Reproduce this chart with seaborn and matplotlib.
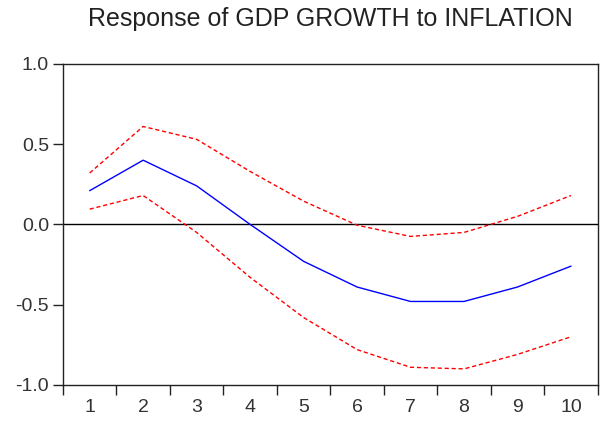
import pandas as pd
import seaborn as sns
import matplotlib.pyplot as plt

# Impulse response values
periods = [1, 2, 3, 4, 5, 6, 7, 8, 9, 10]
response = [0.21, 0.40, 0.24, 0.00, -0.23, -0.39, -0.48, -0.48, -0.39, -0.26]
upper_band = [0.32, 0.61, 0.53, 0.33, 0.145, -0.005, -0.075, -0.05, 0.05, 0.18]
lower_band = [0.095, 0.18, -0.05, -0.33, -0.58, -0.78, -0.89, -0.90, -0.81, -0.70]

df = pd.DataFrame({"period": periods * 3,
                   "value": response + upper_band + lower_band,
                   "series": ["response"] * 10 + ["upper"] * 10 + ["lower"] * 10})

sns.set_theme(style="white")
plt.rcParams["font.family"] = ["Liberation Sans", "DejaVu Sans"]

fig = plt.figure(figsize=(6.05, 4.23), dpi=100)
ax = fig.add_axes([0.104, 0.090, 0.884, 0.759])

sns.lineplot(data=df, x="period", y="value", hue="series", style="series",
             palette={"response": "#0000ff", "upper": "#ff0000", "lower": "#ff0000"},
             dashes={"response": "", "upper": (3, 2), "lower": (3, 2)},
             linewidth=1, legend=False, ax=ax)

ax.axhline(0, color="black", linewidth=1, zorder=1)

# x axis: ticks at the boundaries, labels centred between them
ax.set_xlim(0.5, 10.5)
ax.set_xticks([i + 0.5 for i in range(0, 11)])
ax.set_xticklabels([])
ax.set_xticks(periods, minor=True)
ax.set_xticklabels([str(p) for p in periods], minor=True)
ax.tick_params(axis="x", which="major", direction="out", length=7, width=1, color="#222222", bottom=True)
ax.tick_params(axis="x", which="minor", length=0, pad=10, labelsize=14, labelcolor="#333333", bottom=True)

ax.set_ylim(-1.0, 1.0)
ax.set_yticks([-1.0, -0.5, 0.0, 0.5, 1.0])
ax.set_yticklabels(["-1.0", "-0.5", "0.0", "0.5", "1.0"])
ax.tick_params(axis="y", direction="out", length=7, width=1, color="#222222", left=True,
               labelsize=14, labelcolor="#333333", pad=3)

ax.set_xlabel("")
ax.set_ylabel("")
ax.set_title("Response of GDP GROWTH to INFLATION", fontsize=18, color="#222222", pad=27)

for spine in ["top", "right", "left", "bottom"]:
    ax.spines[spine].set_visible(True)
    ax.spines[spine].set_color("#222222")
    ax.spines[spine].set_linewidth(1)

fig.savefig("out.png", dpi=100)
